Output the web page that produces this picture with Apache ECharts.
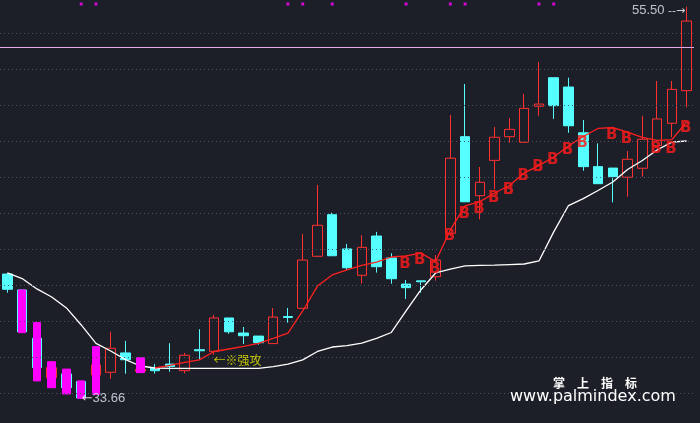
<!DOCTYPE html>
<html>
<head>
<meta charset="utf-8">
<script src="https://cdn.jsdelivr.net/npm/echarts@6/dist/echarts.min.js"></script>
<style>
html,body{margin:0;padding:0;background:#1d1f28;}
#c{width:700px;height:423px;}
</style>
</head>
<body>
<div id="c"></div>
<script>
// ---- data ----
var categories = ['1','2','3','4','5','6','7','8','9','10','11','12','13','14','15','16','17','18','19','20','21','22','23','24','25','26','27','28','29','30','31','32','33','34','35','36','37','38','39','40','41','42','43','44','45','46','47'];
var openP  = [40.59,39.70,37.01,34.81,35.02,34.59,34.96,35.11,36.19,35.17,35.35,35.57,35.20,36.37,36.28,38.14,37.30,37.13,36.71,38.22,38.68,41.58,43.90,41.99,40.52,42.71,41.49,40.03,40.21,40.44,42.86,48.25,44.96,46.93,48.25,47.94,49.95,51.54,51.02,48.47,46.58,46.50,45.99,46.49,47.75,49.00,50.82];
var closeP = [39.74,37.37,35.37,35.37,34.25,33.68,35.52,36.45,35.81,35.27,35.20,35.44,36.06,36.31,38.14,37.37,37.15,36.76,38.19,38.17,41.37,43.31,41.61,40.94,42.08,41.00,40.33,39.83,40.16,41.37,47.05,44.62,45.71,48.22,48.66,49.83,50.07,49.98,48.86,46.58,45.63,46.02,46.99,48.11,49.24,50.89,54.70];
var lowP   = [39.55,37.32,34.63,34.25,33.90,33.66,33.88,34.75,35.03,35.09,35.04,35.14,35.05,35.85,36.09,37.26,36.69,36.65,36.71,37.88,38.68,41.58,41.61,40.82,40.05,40.67,40.05,39.20,39.55,40.22,42.71,44.62,43.64,45.32,47.92,47.94,49.42,49.25,48.47,46.35,45.63,44.59,44.90,46.02,47.68,48.22,49.89];
var highP  = [40.65,39.70,37.88,35.70,35.29,34.63,36.54,37.37,36.86,35.92,35.57,36.73,36.19,37.51,38.31,38.14,37.64,37.13,38.70,38.70,42.82,45.56,44.01,42.27,42.75,42.94,41.75,40.26,40.21,41.65,49.46,51.19,46.56,48.79,49.28,50.63,52.42,51.54,51.54,49.18,47.88,46.50,47.45,49.42,51.36,51.36,55.50];
var whiteLine = [40.65,40.34,39.76,39.31,38.70,37.75,36.72,36.30,35.82,35.46,35.35,35.33,35.33,35.33,35.33,35.33,35.33,35.33,35.43,35.57,35.80,36.27,36.52,36.60,36.74,37.00,37.33,38.53,39.70,40.65,40.87,41.04,41.07,41.09,41.12,41.15,41.32,42.94,44.41,44.80,45.25,45.72,46.42,46.92,47.51,47.95,48.01];
var redLine = ['-','-','-','-','-','-','-','-','-','-',35.35,35.49,35.66,35.80,36.27,36.41,36.55,36.72,37.00,37.30,38.53,39.92,40.54,40.82,41.07,41.26,41.54,41.60,41.76,41.29,43.05,44.39,44.63,45.11,45.53,46.23,46.64,47.12,47.73,48.26,48.71,48.76,48.51,48.21,48.04,48.09,49.07];
var magentaIdx = [1,2,3,4,5,6,9];
var signalIdx = [5,6,19,20,22,27,30,31,36,37];
var signalLevel = 55.65;
var bIdx = [27,28,29,30,31,32,33,34,35,36,37,38,39,41,42,44,45,46];
var bVal = [41.16,41.37,40.87,42.70,43.94,44.20,44.81,45.28,46.06,46.54,46.95,47.51,47.90,48.35,48.12,47.55,47.55,48.72];
var gridLevels = [54.006,51.998,49.990,47.983,45.975,43.967,41.959,39.951,37.944,35.936,33.928];
var pinkLevel = 53.225;
var attackIdx = 14;
var attackText = '←※强攻';
var yMin = 32.282, yMax = 55.874;

// ---- build ----
var kData = openP.map(function(o,i){ return [o, closeP[i], lowP[i], highP[i]]; });
var magData = categories.map(function(c,i){
  return magentaIdx.indexOf(i) >= 0 ? [highP[i], lowP[i], lowP[i], highP[i]] : '-';
});
var minI = 0, maxI = 0;
lowP.forEach(function(v,i){ if (v < lowP[minI]) minI = i; });
highP.forEach(function(v,i){ if (v > highP[maxI]) maxI = i; });

var chart = echarts.init(document.getElementById('c'), null, {renderer:'canvas'});
chart.setOption({
  backgroundColor: '#1d1f28',
  animation: false,
  grid: {left: 0, right: 6, top: 0, bottom: 0},
  xAxis: {type:'category', data: categories, boundaryGap: true, show: false},
  yAxis: {type:'value', min: yMin, max: yMax, show: false, splitLine:{show:false}},
  series: [
    {
      name:'K', type:'candlestick', data: kData, barWidth: 10, z: 2,
      itemStyle: {color:'rgba(0,0,0,0)', color0:'#55ffff', borderColor:'#ff3030', borderColor0:'#55ffff', borderWidth:1},
      markLine: {
        silent: true, symbol: ['none','none'], label:{show:false},
        data: gridLevels.map(function(v){ return {yAxis: v, lineStyle:{color:'#50555f', width:1, type:[1,3]}}; })
          .concat([{yAxis: pinkLevel, lineStyle:{color:'#eaa8ea', width:1, type:'solid'}}])
      }
    },
    {
      name:'white', type:'line', data: whiteLine, symbol:'none', z: 3, silent: true,
      lineStyle:{color:'#ffffff', width:1.3}
    },
    {
      name:'red', type:'line', data: redLine, symbol:'none', z: 3, silent: true,
      lineStyle:{color:'#ff2020', width:1.3}
    },
    {
      name:'mag', type:'candlestick', data: magData, barWidth: 8, z: 4,
      itemStyle: {color:'#ff00ff', color0:'#ff00ff', borderColor:'#ff00ff', borderColor0:'#ff00ff', borderWidth:1}
    },
    {
      name:'sig', type:'scatter', symbol:'rect', symbolSize:3, z: 5, silent: true,
      data: signalIdx.map(function(k){ return [k, signalLevel]; }),
      itemStyle:{color:'#ff00ff'}
    },
    {
      name:'B', type:'scatter', symbolSize:1, z: 6, silent: true,
      data: bIdx.map(function(k,i){ return [k, bVal[i]]; }),
      itemStyle:{color:'rgba(0,0,0,0)'},
      label:{show:true, formatter:'B', position:'inside', color:'#ff1a1a', fontSize:15, fontWeight:'bold', fontFamily:'DejaVu Sans', offset:[-1,0]}
    },
    {
      name:'notes', type:'scatter', symbolSize:1, z: 7, silent: true,
      itemStyle:{color:'rgba(0,0,0,0)'},
      data: [
        {value:[minI, lowP[minI]], label:{show:true, position:'right', distance:0,
          formatter:'{a|←}{b|' + lowP[minI].toFixed(2) + '}',
          rich:{a:{color:'#ffffff', fontSize:13, fontFamily:'DejaVu Sans'}, b:{color:'#e2eaf5', fontSize:13, fontFamily:'Liberation Sans'}}}},
        {value:[maxI, highP[maxI]], label:{show:true, position:'left', distance:1, offset:[0,4],
          formatter:'{b|' + highP[maxI].toFixed(2) + '}{a| --→}',
          rich:{a:{color:'#ffffff', fontSize:11, fontFamily:'DejaVu Sans'}, b:{color:'#e2eaf5', fontSize:13, fontFamily:'Liberation Sans'}}}},
        {value:[attackIdx, lowP[attackIdx]], label:{show:true, position:[0,0], align:'left', verticalAlign:'top',
          formatter: attackText, color:'#e8e800', fontSize:12, fontFamily:'Noto Sans CJK SC'}}
      ]
    }
  ],
  graphic: [
    {type:'text', left:553, top:377, z:100, style:{text:'掌　上　指　标', fill:'#ffffff', font:'bold 12px "Noto Sans CJK SC"'}},
    {type:'text', left:510, top:389, z:100, style:{text:'www.palmindex.com', fill:'#ffffff', font:'16px "DejaVu Sans"'}}
  ]
});
</script>
</body>
</html>
